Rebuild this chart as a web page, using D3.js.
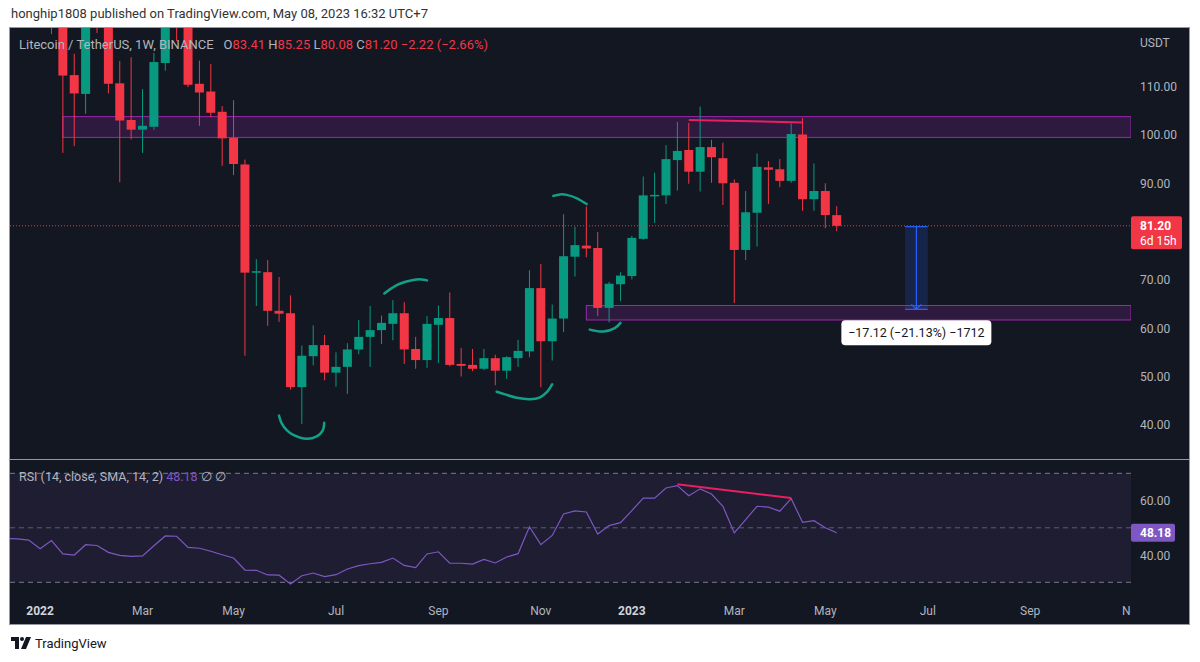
<!DOCTYPE html>
<html>
<head>
<meta charset="utf-8">
<script src="https://cdn.jsdelivr.net/npm/d3@7"></script>
<style>
  body { margin: 0; background: #ffffff; }
  svg { display: block; font-family: Roboto, "Noto Sans", sans-serif; }
</style>
</head>
<body>
<script>
// weekly LTC/USDT candles, first bar = week of 2021-12-13
const firstWeek = "2021-12-13";
const opens  = [155,152,158,147,128,139,112.4,108.5,131,127,110.7,103.1,101.1,101.7,114.9,128,124,110.6,109.0,104.8,99.4,93.9,71.5,71.6,63.6,63.1,47.8,54.2,56.5,50.8,52.0,55.6,58.2,59.6,60.9,63.1,55.7,53.4,60.7,62.1,52.6,52.4,51.6,53.8,51.2,53.8,55.2,68.3,57.3,62.0,74.8,77.1,76.6,64.2,69.1,70.8,78.5,87.4,87.5,94.8,96.9,92.4,97.5,95.2,90.1,76.2,83.9,93.3,92.9,90.5,100.1,86.7,88.4,83.41];
const highs  = [160,168,166,151,142,141,116.8,140,148,131,115.3,116.1,109.5,117.0,135,136,127,115.4,114.7,106.0,107.2,94.9,74.3,74.1,70.6,66.8,56.4,60.6,58.6,55.0,56.9,61.7,64.6,62.6,65.8,65.4,58.2,62.5,64.7,67.4,55.9,55.7,55.7,54.5,54.2,57.6,72.0,73.3,64.9,83.6,81.0,85.2,79.9,69.6,71.6,79.1,91.4,92.2,97.9,102.7,102.5,105.9,99.0,98.4,90.8,88.4,96.2,94.6,95.0,102.4,103.5,94.1,90.0,85.25];
const lows   = [141,146,143,125,120.9,96.3,97.7,104.4,121.1,108.6,90.2,99.1,96.3,101.1,113.3,119.4,109.9,101.9,103.7,93.6,91.7,54.3,64.6,60.5,61.3,47.3,40.2,52.3,49.2,47.9,46.4,54.6,52.0,56.7,57.5,52.6,51.6,51.8,52.8,52.1,50.0,51.1,51.3,48.2,49.5,52.0,54.0,47.8,53.3,59.2,70.7,74.7,62.5,61.2,65.6,70.1,78.3,81.8,85.7,88.5,89.9,88.3,90.1,85.5,65.2,74.1,76.9,85.7,89.2,90.1,84.3,84.3,80.7,80.08];
const closes = [152,158,147,128,139,112.3,108.6,131,127,110.6,103.0,101.1,101.9,115.1,128,124,110.4,108.8,104.6,99.3,94.0,71.5,71.8,63.6,63.0,47.8,54.3,56.5,50.8,52.0,55.6,58.2,59.6,61.1,63.1,55.6,53.4,60.9,62.1,52.4,52.2,51.6,53.8,51.2,54.0,55.3,68.3,57.3,62.0,74.9,77.2,76.5,64.2,69.2,70.9,78.7,87.5,87.6,95.0,96.7,92.4,97.5,95.4,90.0,76.2,84.0,93.4,92.8,90.5,100.2,86.7,88.4,83.42,81.20];
const rsiValues = [46.1,45.9,45.5,42.3,45.3,40.4,40.0,43.8,43.5,41.0,39.9,39.5,39.7,43.4,47.0,46.9,42.8,42.5,41.4,40.1,38.9,34.5,34.4,32.7,32.6,29.4,32.4,33.4,32.1,32.8,34.9,36.1,36.8,37.3,38.9,36.2,35.4,40.4,41.2,37.0,37.0,36.7,38.4,37.1,39.3,40.5,50.4,43.8,47.2,55.1,56.2,55.8,47.7,50.8,51.9,56.3,60.9,60.9,64.6,65.5,61.8,64.3,62.4,57.9,48.1,53.0,57.9,57.6,56.1,60.7,52.0,52.6,50.0,48.18];

const priceTicks = [40, 50, 60, 70, 90, 100, 110];
const rsiTicks = [40, 60];
const rsiLevels = [70, 50, 30];
const timeTickDates = ["2022-01-03","2022-03-07","2022-05-02","2022-07-04","2022-09-05","2022-11-07","2023-01-02","2023-03-06","2023-05-01","2023-07-03","2023-09-04","2023-11-06"];
const timeTickLabels = ["2022","Mar","May","Jul","Sep","Nov","2023","Mar","May","Jul","Sep","Nov"];

// drawings: [week index, price]
const zoneTop = { from: 5, lo: 99.5, hi: 103.8 };
const zoneBottom = { from: 51, lo: 61.7, hi: 64.7 };
const priceDivergence = [[60, 103.1], [70, 102.6]];
const rsiDivergence = [[59, 66.0], [69, 60.9]];
const brushStrokes = [
  [[23.99,41.9],[24.23,40.3],[24.67,38.9],[25.25,37.9],[26.43,37.1],[27.31,37.6],[27.83,38.8],[27.97,40.4]],
  [[33.25,67.2],[33.9,68.3],[34.6,69.2],[35.8,70.0],[36.5,70.1],[37.0,69.9]],
  [[43.12,46.85],[43.85,46.3],[44.88,45.6],[46.05,45.3],[46.93,45.7],[47.55,46.8],[48.0,48.4]],
  [[48.1,87.4],[48.7,87.7],[49.27,87.6],[50.18,86.9],[51.03,85.7]],
  [[51.3,59.7],[52.5,59.3],[53.5,60.0],[54.0,61.1]]
];
const measure = { from: 79, to: 81, start: 81.02, end: 63.90 };

const W = 1200, H = 662;
const plot = { left: 10, right: 1131, top: 28, priceBottom: 459, rsiTop: 460, rsiBottom: 592, bottom: 624, outer: 1189 };
const UP = "#089981", DOWN = "#f23645", TXT = "#b2b5be", BG = "#131722";

const svg = d3.select("body").append("svg").attr("width", W).attr("height", H);

svg.append("text").attr("x", 11).attr("y", 18).attr("font-size", 13).attr("fill", "#333")
  .text("honghip1808 published on TradingView.com, May 08, 2023 16:32 UTC+7");

svg.append("rect").attr("x", plot.left).attr("y", plot.top)
  .attr("width", plot.outer - plot.left).attr("height", plot.bottom - plot.top).attr("fill", BG);

const x = d3.scaleLinear().domain([0, 73]).range([5.96, 836.7]);
const y = d3.scaleLinear().domain([32.92, 122.15]).range([plot.priceBottom, plot.top]);
const yr = d3.scaleLinear().domain([30, 70]).range([582.3, 473.3]);
const t0 = new Date(firstWeek + "T00:00:00Z");
const weekIdx = s => (new Date(s + "T00:00:00Z") - t0) / (7 * 864e5);

const defs = svg.append("defs");
defs.append("clipPath").attr("id", "cp").append("rect")
  .attr("x", plot.left).attr("y", plot.top).attr("width", plot.right - plot.left).attr("height", plot.priceBottom - plot.top);
defs.append("clipPath").attr("id", "cr").append("rect")
  .attr("x", plot.left).attr("y", plot.rsiTop).attr("width", plot.right - plot.left).attr("height", plot.rsiBottom - plot.rsiTop);
defs.append("clipPath").attr("id", "ct").append("rect")
  .attr("x", plot.left).attr("y", plot.rsiBottom).attr("width", plot.right - plot.left).attr("height", plot.bottom - plot.rsiBottom);

// ---------- price pane ----------
const gp = svg.append("g").attr("clip-path", "url(#cp)");

[zoneTop, zoneBottom].forEach(z => {
  gp.append("rect").attr("x", x(z.from)).attr("y", y(z.hi))
    .attr("width", plot.right - x(z.from)).attr("height", y(z.lo) - y(z.hi))
    .attr("fill", "rgba(156,39,176,0.2)").attr("stroke", "#9c27b0").attr("stroke-width", 1);
});

const candles = opens.map((o, i) => ({ i, o, h: highs[i], l: lows[i], c: closes[i] }));
const cg = gp.append("g").selectAll("g").data(candles).join("g")
  .attr("fill", d => d.c >= d.o ? UP : DOWN).attr("stroke", d => d.c >= d.o ? UP : DOWN);
cg.append("line").attr("x1", d => x(d.i)).attr("x2", d => x(d.i))
  .attr("y1", d => y(d.h)).attr("y2", d => y(d.l)).attr("stroke-width", 1);
cg.append("rect").attr("x", d => x(d.i) - 4.5).attr("width", 9)
  .attr("y", d => y(Math.max(d.o, d.c)))
  .attr("height", d => Math.max(1.5, Math.abs(y(d.o) - y(d.c))))
  .attr("stroke", "none");

// last price dotted line
gp.append("line").attr("x1", plot.left).attr("x2", plot.right)
  .attr("y1", y(closes[closes.length - 1])).attr("y2", y(closes[closes.length - 1]))
  .attr("stroke", DOWN).attr("stroke-dasharray", "1,2").attr("stroke-width", 1);

const pline = d3.line().x(d => x(d[0])).y(d => y(d[1]));
gp.append("path").attr("d", pline(priceDivergence)).attr("stroke", "#e91e63").attr("stroke-width", 2).attr("fill", "none");

const brush = d3.line().x(d => x(d[0])).y(d => y(d[1])).curve(d3.curveCatmullRom);
gp.selectAll(".brush").data(brushStrokes).join("path").attr("class", "brush")
  .attr("d", brush).attr("fill", "none").attr("stroke", "#12a087")
  .attr("stroke-width", 2.5).attr("stroke-linecap", "round");

// price range measurement
const mx0 = x(measure.from), mx1 = x(measure.to), mxc = x((measure.from + measure.to) / 2);
gp.append("rect").attr("x", mx0).attr("y", y(measure.start)).attr("width", mx1 - mx0)
  .attr("height", y(measure.end) - y(measure.start)).attr("fill", "rgba(41,98,255,0.18)");
[measure.start, measure.end].forEach(v => gp.append("line").attr("x1", mx0).attr("x2", mx1)
  .attr("y1", y(v)).attr("y2", y(v)).attr("stroke", "#2962ff").attr("stroke-width", 1.2));
gp.append("line").attr("x1", mxc).attr("x2", mxc).attr("y1", y(measure.start)).attr("y2", y(measure.end))
  .attr("stroke", "#2962ff").attr("stroke-width", 1.2);
gp.append("path").attr("d", `M${mxc - 5},${y(measure.end) - 5} L${mxc},${y(measure.end)} L${mxc + 5},${y(measure.end) - 5}`)
  .attr("fill", "none").attr("stroke", "#2962ff").attr("stroke-width", 1.2);
const diff = measure.end - measure.start;
gp.append("rect").attr("x", mxc - 75).attr("y", y(measure.end) + 11).attr("width", 150).attr("height", 25)
  .attr("rx", 4).attr("fill", "#ffffff");
gp.append("text").attr("x", mxc).attr("y", y(measure.end) + 28).attr("text-anchor", "middle")
  .attr("font-size", 12.5).attr("fill", "#131722")
  .text(`\u2212${Math.abs(diff).toFixed(2)} (\u2212${(Math.abs(diff) / measure.start * 100).toFixed(2)}%) \u2212${Math.round(Math.abs(diff) * 100)}`);

// legend
const leg = svg.append("text").attr("x", 19).attr("y", 48.5).attr("font-size", 13).attr("fill", TXT);
leg.append("tspan").text("Litecoin / TetherUS, 1W, BINANCE\u2002 ");
const last = candles[candles.length - 1];
[["O", last.o], ["H", last.h], ["L", last.l], ["C", last.c]].forEach(([k, v]) => {
  leg.append("tspan").text(k);
  leg.append("tspan").attr("fill", DOWN).text(v.toFixed(2) + " ");
});
const chg = last.c - candles[candles.length - 2].c;
leg.append("tspan").attr("fill", DOWN)
  .text(`\u2212${Math.abs(chg).toFixed(2)} (\u2212${(Math.abs(chg) / candles[candles.length - 2].c * 100).toFixed(2)}%)`);

// price axis
svg.append("text").attr("x", 1140).attr("y", 47).attr("font-size", 12).attr("fill", TXT).text("USDT");
svg.append("g").selectAll("text").data(priceTicks).join("text")
  .attr("x", 1140).attr("y", d => y(d) + 4.5).attr("font-size", 12).attr("fill", TXT)
  .text(d => d.toFixed(2));
svg.append("rect").attr("x", plot.right).attr("y", y(last.c) - 9.5).attr("width", 51).attr("height", 33)
  .attr("rx", 2).attr("fill", DOWN);
svg.append("text").attr("x", 1140).attr("y", y(last.c) + 4).attr("font-size", 12).attr("font-weight", 700)
  .attr("fill", "#fff").text(last.c.toFixed(2));
svg.append("text").attr("x", 1140).attr("y", y(last.c) + 19).attr("font-size", 12)
  .attr("fill", "#fff").text("6d 15h");

// pane separator
svg.append("line").attr("x1", plot.left).attr("x2", plot.outer).attr("y1", 459.5).attr("y2", 459.5)
  .attr("stroke", "#9598a1").attr("stroke-width", 1);

// ---------- RSI pane ----------
const gr = svg.append("g").attr("clip-path", "url(#cr)");
gr.append("rect").attr("x", plot.left).attr("y", yr(70)).attr("width", plot.right - plot.left)
  .attr("height", yr(30) - yr(70)).attr("fill", "rgba(126,87,194,0.1)");
gr.selectAll(".lvl").data(rsiLevels).join("line").attr("class", "lvl")
  .attr("x1", plot.left).attr("x2", plot.right).attr("y1", d => yr(d)).attr("y2", d => yr(d))
  .attr("stroke", "#787b86").attr("stroke-dasharray", "5,4").attr("stroke-width", 1)
  .attr("opacity", d => d === 50 ? 0.7 : 1);
const rline = d3.line().x((d, i) => x(i)).y(d => yr(d));
gr.append("path").attr("d", rline(rsiValues)).attr("fill", "none").attr("stroke", "#7e57c2").attr("stroke-width", 1.2);
gr.append("path").attr("d", d3.line().x(d => x(d[0])).y(d => yr(d[1]))(rsiDivergence))
  .attr("fill", "none").attr("stroke", "#e91e63").attr("stroke-width", 2);

const rl = svg.append("text").attr("x", 19).attr("y", 481).attr("font-size", 12.5).attr("fill", TXT);
rl.append("tspan").text("RSI (14, close, SMA, 14, 2) ");
rl.append("tspan").attr("fill", "#7e57c2").text(rsiValues[rsiValues.length - 1].toFixed(2) + " ");
rl.append("tspan").text(" \u2205  \u2205");

svg.append("g").selectAll("text").data(rsiTicks).join("text")
  .attr("x", 1140).attr("y", d => yr(d) + 4.5).attr("font-size", 12).attr("fill", TXT)
  .text(d => d.toFixed(2));
const rLast = rsiValues[rsiValues.length - 1];
svg.append("rect").attr("x", plot.right).attr("y", yr(rLast) - 9).attr("width", 44).attr("height", 18)
  .attr("rx", 2).attr("fill", "#7e57c2");
svg.append("text").attr("x", 1140).attr("y", yr(rLast) + 4.5).attr("font-size", 12).attr("font-weight", 700)
  .attr("fill", "#fff").text(rLast.toFixed(2));

// ---------- time axis ----------
svg.append("g").attr("clip-path", "url(#ct)").selectAll("text").data(timeTickDates).join("text")
  .attr("x", d => x(weekIdx(d))).attr("y", 615).attr("text-anchor", "middle").attr("font-size", 12)
  .attr("font-weight", (d, i) => /^\d{4}$/.test(timeTickLabels[i]) ? 700 : 400)
  .attr("fill", (d, i) => /^\d{4}$/.test(timeTickLabels[i]) ? "#d1d4dc" : TXT)
  .text((d, i) => timeTickLabels[i]);

// frame
svg.append("rect").attr("x", plot.left - 0.5).attr("y", plot.top - 0.5)
  .attr("width", plot.outer - plot.left + 1).attr("height", plot.bottom - plot.top + 1)
  .attr("fill", "none").attr("stroke", "#9598a1").attr("stroke-width", 1);

// footer logo
const logo = svg.append("g").attr("transform", "translate(11,637)").attr("fill", "#131722");
logo.append("path").attr("d", "M0,0 H8 V12 H4 V4 H0 Z");
logo.append("circle").attr("cx", 11).attr("cy", 2).attr("r", 2);
logo.append("path").attr("d", "M15,0 H20 L15,12 H10 Z");
svg.append("text").attr("x", 35).attr("y", 648).attr("font-size", 13).attr("fill", "#131722").text("TradingView");
</script>
</body>
</html>
